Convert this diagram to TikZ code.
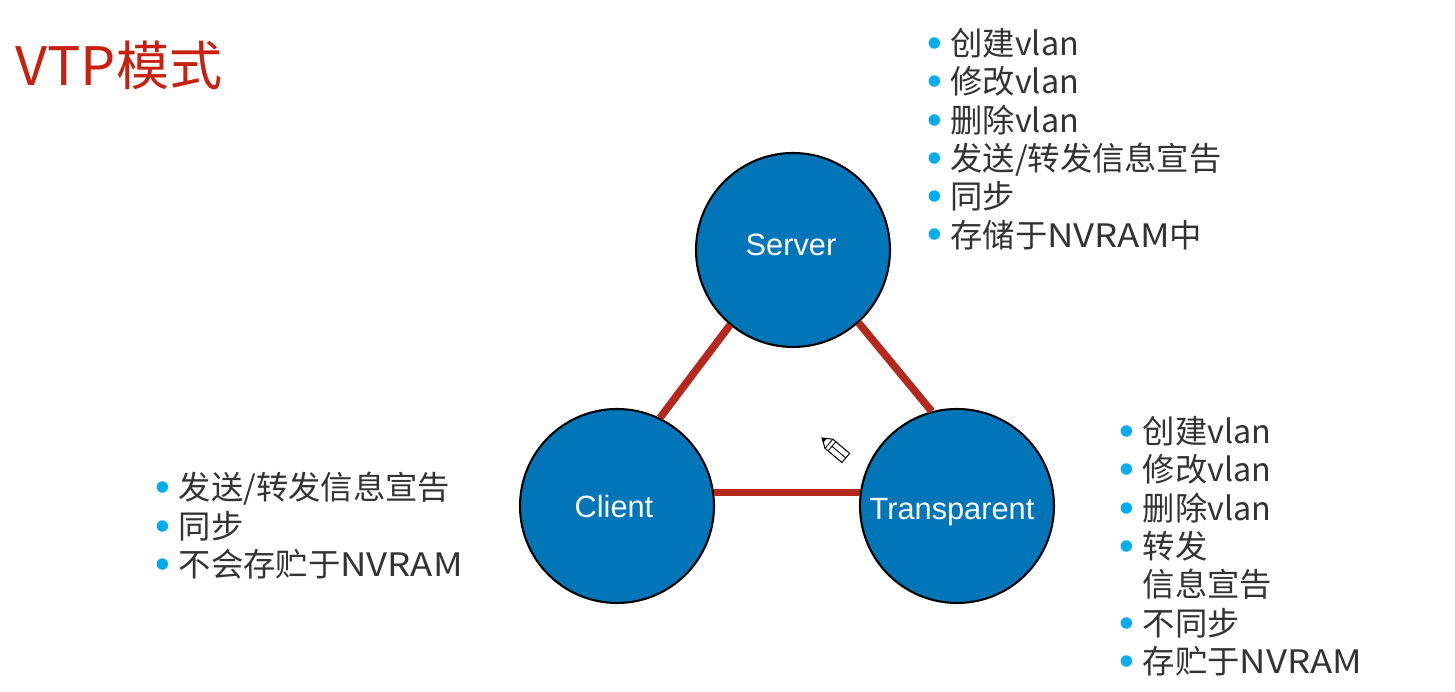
\documentclass[tikz,border=0pt]{standalone}
\usepackage{fontspec}
\setmainfont{Noto Sans CJK SC}
\newfontfamily\labelfont{Liberation Sans}
\newfontfamily\dotfont{Liberation Sans}
\newfontfamily\widefont[FakeStretch=1.13]{Noto Sans CJK SC}
\newfontfamily\titlefont[FakeStretch=1.05]{Noto Sans CJK SC}
\definecolor{modeblue}{HTML}{0075B8}
\definecolor{linkred}{HTML}{B5281E}
\definecolor{titlered}{HTML}{C8200F}
\definecolor{dotblue}{HTML}{00AEEF}
\definecolor{listgray}{HTML}{333333}
\newcommand{\bl}{\makebox[0.46cm][l]{\textcolor{dotblue}{\dotfont\fontsize{24}{22}\selectfont\raisebox{-0.04cm}{•}}}}
\newcommand{\nobl}{\hspace*{0.46cm}}
\newcommand{\nvram}{{\widefont NVRAM}}
\begin{document}
\begin{tikzpicture}[x=0.02cm,y=0.02cm]
  \tikzset{mode/.style={circle, draw=black, line width=1.2pt, fill=modeblue, minimum size=3.88cm, inner sep=0pt},
    modetext/.style={text=white, font=\labelfont\fontsize{17.5}{21}\selectfont},
    link/.style={draw=linkred, line width=0.15cm},
    list/.style={align=left, anchor=north west, inner sep=0pt, text=listgray, font=\fontsize{18.4}{21.8}\selectfont}}
  \useasboundingbox (0,0) rectangle (1455,692);
  \fill[white] (0,0) rectangle (1455,692);
  % modes
  \node[mode, label={[modetext, shift={(-2,5)}]center:Server}] (server) at (793,442) {};
  \node[mode, label={[modetext, shift={(-3,-1)}]center:Client}] (client) at (617,186) {};
  \node[mode, label={[modetext, shift={(-5,-6)}]center:Transparent}] (transparent) at (957,186) {};
  % links
  \draw[link] (server.230) -- (client.64);
  \draw[link] (server.312) -- (transparent.105);
  \draw[link] (client.8) -- (transparent.172);
  % lists
  \node[list] (serverlist) at (927,664) {\bl 创建vlan\\\bl 修改vlan\\\bl 删除vlan\\\bl 发送/转发信息宣告\\\bl 同步\\\bl 存储于\nvram 中};
  \node[list] (clientlist) at (155.5,220) {\bl 发送/转发信息宣告\\\bl 同步\\\bl 不会存贮于\nvram};
  \node[list] (transparentlist) at (1119.5,276) {\bl 创建vlan\\\bl 修改vlan\\\bl 删除vlan\\\bl 转发\\\nobl 信息宣告\\\bl 不同步\\\bl 存贮于\nvram};
  \node[anchor=west, inner sep=0pt, text=titlered, font=\fontsize{30.2}{34}\selectfont] (title) at (15,627) {{\titlefont VTP}模式};
  % pencil
  \begin{scope}[shift={(822,254)}, rotate=-40]
    \draw[black, line width=0.6pt, fill=white] (0,0) -- (9,6) -- (31,6) -- (31,-6) -- (9,-6) -- cycle;
    \draw[black, line width=0.5pt] (9,6) -- (9,-6) (13,6) -- (13,-6) (13,0) -- (31,0);
    \fill[black] (0,0) -- (4,2.6) -- (4,-2.6) -- cycle;
  \end{scope}
\end{tikzpicture}
\end{document}
